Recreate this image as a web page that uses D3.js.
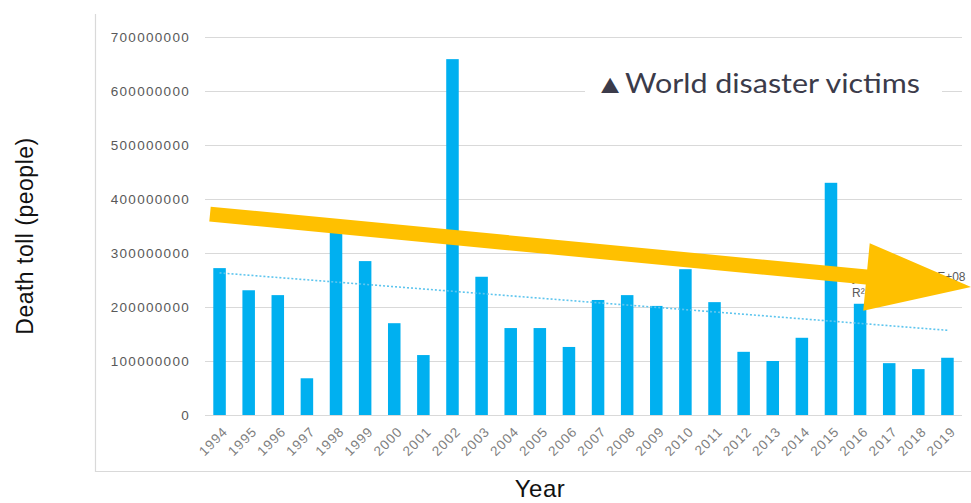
<!DOCTYPE html>
<html>
<head>
<meta charset="utf-8">
<script src="https://cdn.jsdelivr.net/npm/d3@7/dist/d3.min.js"></script>
<style>
  html, body { margin: 0; padding: 0; background: #fff; }
  svg { display: block; }
</style>
</head>
<body>
<svg id="chart" width="971" height="503"></svg>
<script>
// Yearly death toll from world disasters, 1994–2019
const years = ["1994","1995","1996","1997","1998","1999","2000","2001","2002","2003","2004","2005","2006",
               "2007","2008","2009","2010","2011","2012","2013","2014","2015","2016","2017","2018","2019"];
const deaths = [272e6, 231e6, 222e6, 68e6, 339e6, 285e6, 170e6, 111e6, 659e6, 256e6, 161e6, 161e6, 126e6,
                213e6, 222e6, 202e6, 270e6, 209e6, 117e6, 100e6, 143e6, 430e6, 206e6, 96e6, 85e6, 106e6];
const yTicks = [0, 100e6, 200e6, 300e6, 400e6, 500e6, 600e6, 700e6];
const titleText = "▲World disaster victims";
const yTitle = "Death toll (people)";
const xTitle = "Year";
// Emphasis arrow: start and tip expressed as values on the y axis
const arrowStartValue = 372e6;
const arrowTipValue = 237e6;

const svg = d3.select("#chart");

const x = d3.scaleBand().domain(years).range([205, 962]).paddingInner(0.57).paddingOuter(0.285);
const y = d3.scaleLinear().domain([0, 700e6]).range([415, 37]);
const cx = d => x(d) + x.bandwidth() / 2;

// chart area border (left and bottom)
svg.append("line").attr("x1", 95.5).attr("x2", 95.5).attr("y1", 14).attr("y2", 472)
  .attr("stroke", "#d9d9d9").attr("stroke-width", 1.2);
svg.append("line").attr("x1", 95).attr("x2", 971).attr("y1", 471.5).attr("y2", 471.5)
  .attr("stroke", "#d9d9d9").attr("stroke-width", 1.2);

// y axis with gridlines
const yAxis = d3.axisLeft(y).tickValues(yTicks).tickFormat(d3.format("d"))
  .tickSize(-(x.range()[1] - x.range()[0])).tickPadding(15);
const gy = svg.append("g").attr("transform", `translate(${x.range()[0]},0)`).call(yAxis);
gy.select(".domain").remove();
gy.selectAll(".tick line").attr("stroke", "#d9d9d9").attr("stroke-width", 1.2);
gy.selectAll(".tick text").attr("fill", "#595959").style("font-family", "Arial, 'Liberation Sans', sans-serif")
  .style("font-size", "13.5px").style("letter-spacing", "1.3px");

// x axis labels, rotated
const xAxis = d3.axisBottom(x).tickSize(0).tickPadding(8);
const gx = svg.append("g").attr("transform", `translate(0,${y(0)})`).call(xAxis);
gx.select(".domain").remove();
gx.selectAll(".tick text")
  .attr("fill", "#7f7f7f")
  .style("font-family", "Arial, 'Liberation Sans', sans-serif")
  .style("font-size", "13.5px").style("letter-spacing", "1px")
  .attr("text-anchor", "end")
  .attr("dx", "-0.45em").attr("dy", "0.8em")
  .attr("transform", "rotate(-45)");

// bars
svg.append("g").selectAll("rect").data(years).join("rect")
  .attr("x", d => x(d))
  .attr("width", x.bandwidth())
  .attr("y", (d, i) => y(deaths[i]))
  .attr("height", (d, i) => y(0) - y(deaths[i]))
  .attr("fill", "#00b0f0");

// linear trendline (least squares over year index)
const n = deaths.length;
const idx = d3.range(n);
const mx = d3.mean(idx), my = d3.mean(deaths);
const sxy = d3.sum(idx, i => (i - mx) * (deaths[i] - my));
const sxx = d3.sum(idx, i => (i - mx) ** 2);
const slope = sxy / sxx;
const intercept = my - slope * mx;
const ssTot = d3.sum(deaths, v => (v - my) ** 2);
const r2 = slope * slope * sxx / ssTot;

const trend = d3.line().x(i => cx(years[i])).y(i => y(intercept + slope * i));
svg.append("path").datum([0, n - 1]).attr("d", trend)
  .attr("fill", "none").attr("stroke", "#5ec5ee").attr("stroke-width", 1.6)
  .attr("stroke-dasharray", "2,2");

// trendline equation (Excel style, x counted from 1)
const sci = v => {
  const s = v.toExponential(0).toUpperCase();
  return s.replace(/E([+-])(\d)$/, "E$10$2");
};
const b1 = intercept + slope; // intercept when x starts at 1
const eqG = svg.append("g").attr("fill", "#595959")
  .style("font-family", "Arial, 'Liberation Sans', sans-serif").style("font-size", "12px");
eqG.append("text").attr("x", cx("2016") - 8).attr("y", y(248e6))
  .text(`y = ${sci(slope)}x + ${sci(b1)}`);
eqG.append("text").attr("x", cx("2016") - 8).attr("y", y(218e6))
  .text(`R² = ${r2.toFixed(4)}`);

// title with white backing
svg.append("rect").attr("x", 585).attr("y", 62).attr("width", 357).attr("height", 48).attr("fill", "#fff");
svg.append("text").attr("x", 595).attr("y", 93)
  .attr("fill", "#3b3b4a")
  .attr("textLength", 325).attr("lengthAdjust", "spacingAndGlyphs")
  .style("font-family", "Lato, 'Open Sans', sans-serif").style("font-size", "26px")
  .text(titleText);

// axis titles
svg.append("text")
  .attr("transform", `translate(33,${(y(0) + y(700e6)) / 2 + 10}) rotate(-90)`)
  .attr("text-anchor", "middle").attr("fill", "#111")
  .style("font-family", "Arial, 'Liberation Sans', sans-serif").style("font-size", "23px")
  .style("letter-spacing", "0.5px")
  .text(yTitle);
svg.append("text")
  .attr("x", 540).attr("y", 497).attr("text-anchor", "middle").attr("fill", "#111")
  .style("font-family", "Arial, 'Liberation Sans', sans-serif").style("font-size", "24px")
  .style("letter-spacing", "0.5px")
  .text(xTitle);

// emphasis arrow
const S = [x.range()[0] + 5, y(arrowStartValue)];
const T = [x.range()[1] + 9, y(arrowTipValue)];
const len = Math.hypot(T[0] - S[0], T[1] - S[1]);
const ux = (T[0] - S[0]) / len, uy = (T[1] - S[1]) / len;
const px = -uy, py = ux;
const shaftHalf = 7.5, headLen = 105, headHalf = 34;
const B = [T[0] - ux * headLen, T[1] - uy * headLen];
const pt = (p, k) => [p[0] + px * k, p[1] + py * k];
const arrowPts = [
  pt(S, -shaftHalf), pt(B, -shaftHalf), pt(B, -headHalf), T,
  pt(B, headHalf), pt(B, shaftHalf), pt(S, shaftHalf)
];
svg.append("path").attr("d", d3.line()(arrowPts) + "Z").attr("fill", "#ffc000");
</script>
</body>
</html>
